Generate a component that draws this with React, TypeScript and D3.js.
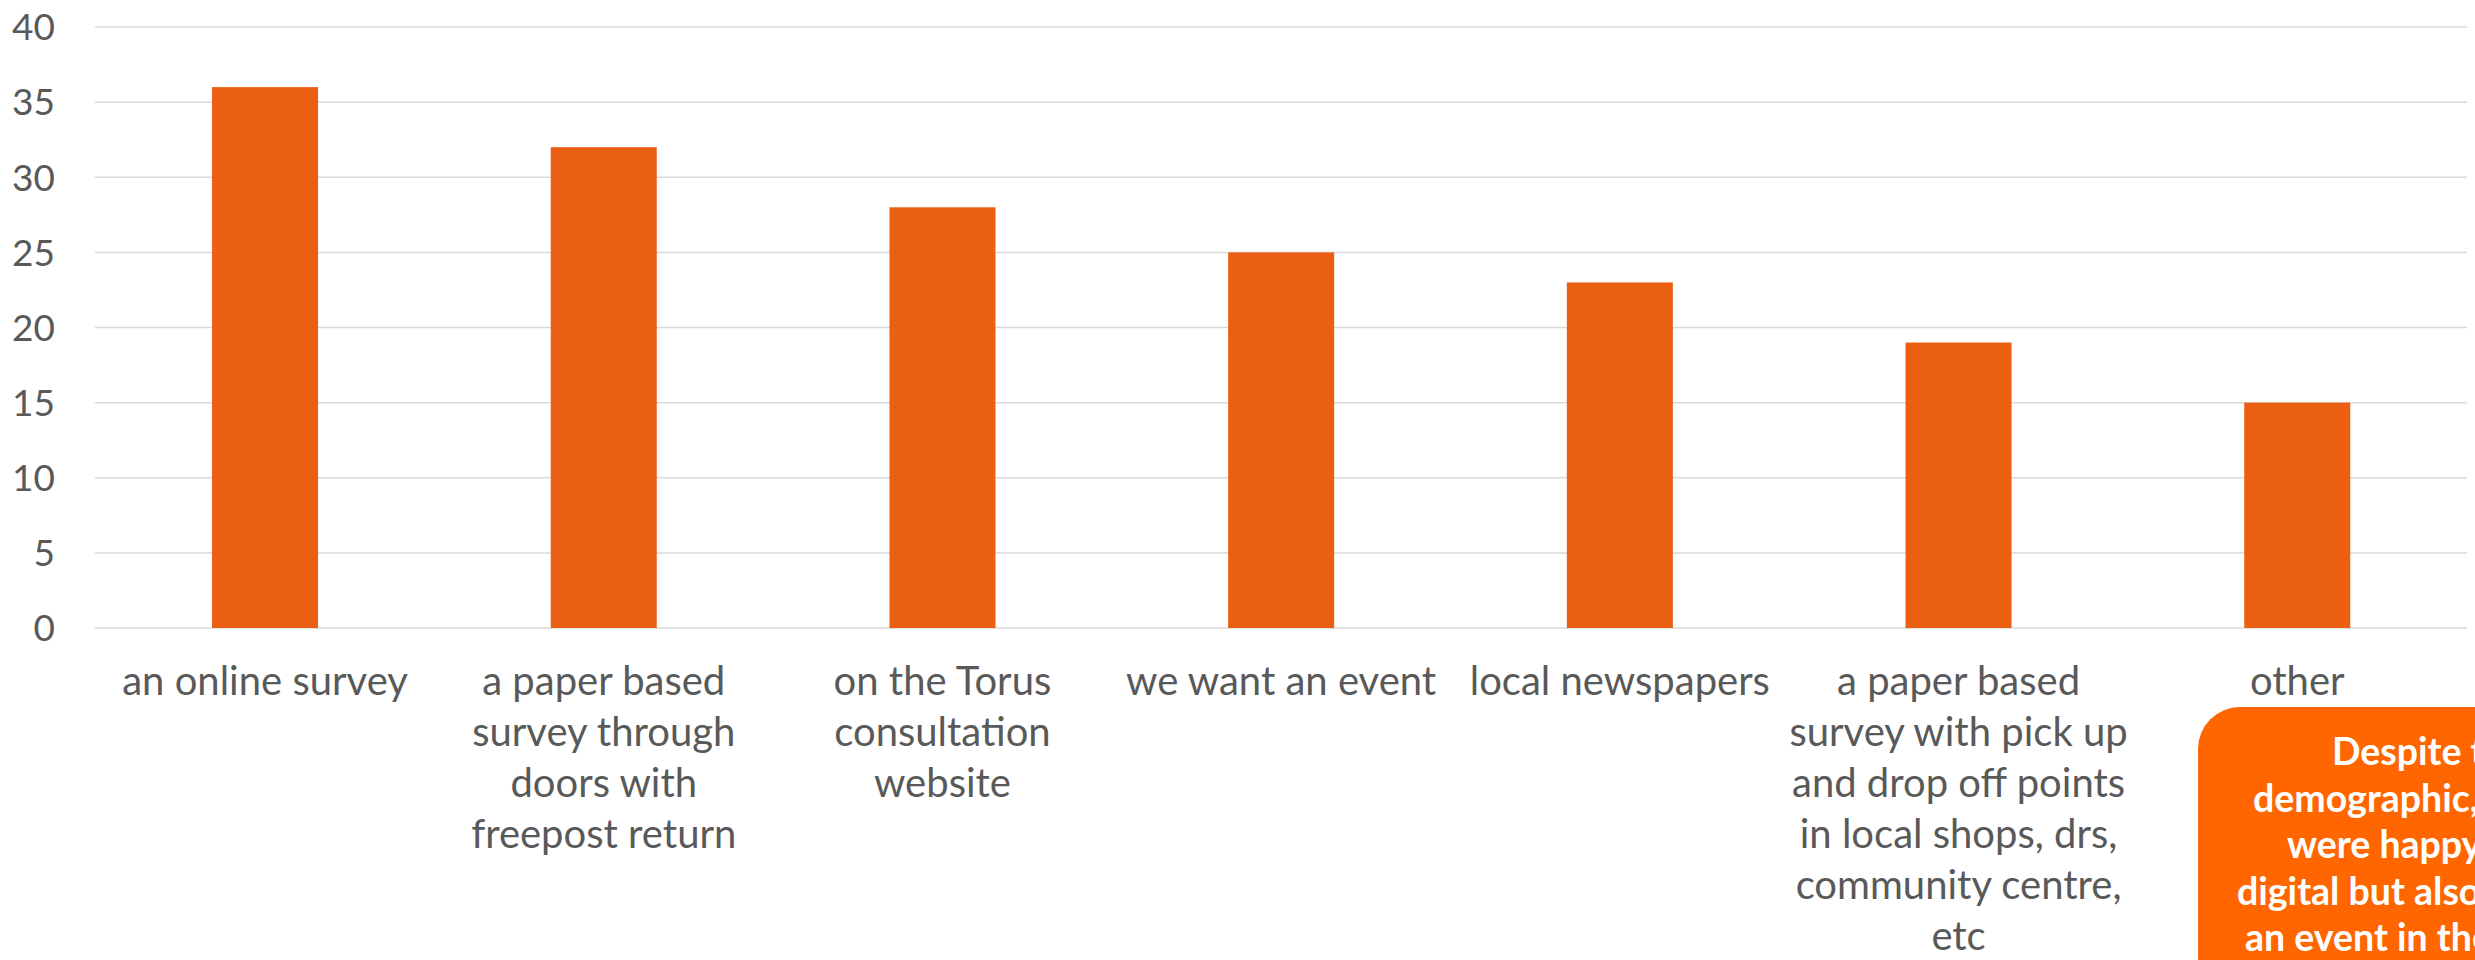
import React from "react";
import * as d3 from "d3";

const categories = [
  "an online survey",
  "a paper based survey through doors with freepost return",
  "on the Torus consultation website",
  "we want an event",
  "local newspapers",
  "a paper based survey with pick up and drop off points in local shops, drs, community centre, etc",
  "other",
];
const categoryLines = [
  ["an online survey"],
  ["a paper based", "survey through", "doors with", "freepost return"],
  ["on the Torus", "consultation", "website"],
  ["we want an event"],
  ["local newspapers"],
  ["a paper based", "survey with pick up", "and drop off points", "in local shops, drs,", "community centre,", "etc"],
  ["other"],
];
const values = [36, 32, 28, 25, 23, 19, 15];
const yTicks = [0, 5, 10, 15, 20, 25, 30, 35, 40];
const calloutLines = [
  "Despite the",
  "demographic, people",
  "were happy to go",
  "digital but also wanted",
  "an event in the village",
];

const W = 2475;
const H = 960;
const FONT = "Lato, 'Open Sans', sans-serif";
// horizontal start of each centred callout line, relative to the box's left edge
const calloutLineOffsets = [134, 55, 89, 39, 47];

export default function App() {
  const x = d3
    .scaleBand<string>()
    .domain(categories)
    .range([95.7, 2466.6])
    .paddingInner(0.687)
    .paddingOuter(0.3435);
  const y = d3.scaleLinear().domain([0, 40]).range([628, 27]);

  const boxX = 2198;
  const boxY = 707;

  return (
    <svg
      width={W}
      height={H}
      style={{ position: "absolute", left: 0, top: 0, overflow: "hidden", background: "#fff" }}
    >
      {yTicks.map((t) => (
        <g key={t}>
          <line x1={95} x2={2467} y1={y(t)} y2={y(t)} stroke="#d9d9d9" strokeWidth={1.5} />
          <text
            x={55}
            y={y(t)}
            dy="0.36em"
            textAnchor="end"
            fontFamily={FONT}
            fontSize={37}
            fill="#595959"
          >
            {t}
          </text>
        </g>
      ))}
      {categories.map((c, i) => (
        <rect
          key={c}
          x={x(c)}
          y={y(values[i])}
          width={x.bandwidth()}
          height={y(0) - y(values[i])}
          fill="#EA5F12"
        />
      ))}
      {categories.map((c, i) => (
        <text
          key={"l" + i}
          textAnchor="middle"
          fontFamily={FONT}
          fontSize={40}
          fill="#595959"
        >
          {categoryLines[i].map((ln, j) => (
            <tspan key={j} x={(x(c) as number) + x.bandwidth() / 2} y={695 + j * 51}>
              {ln}
            </tspan>
          ))}
        </text>
      ))}
      <rect x={boxX} y={boxY} width={470} height={360} rx={42} ry={42} fill="#FF6600" />
      <text fontFamily={FONT} fontWeight={700} fontSize={37.5} fill="#ffffff">
        {calloutLines.map((ln, j) => (
          <tspan key={j} x={boxX + calloutLineOffsets[j]} y={765 + j * 46.5}>
            {ln}
          </tspan>
        ))}
      </text>
    </svg>
  );
}
